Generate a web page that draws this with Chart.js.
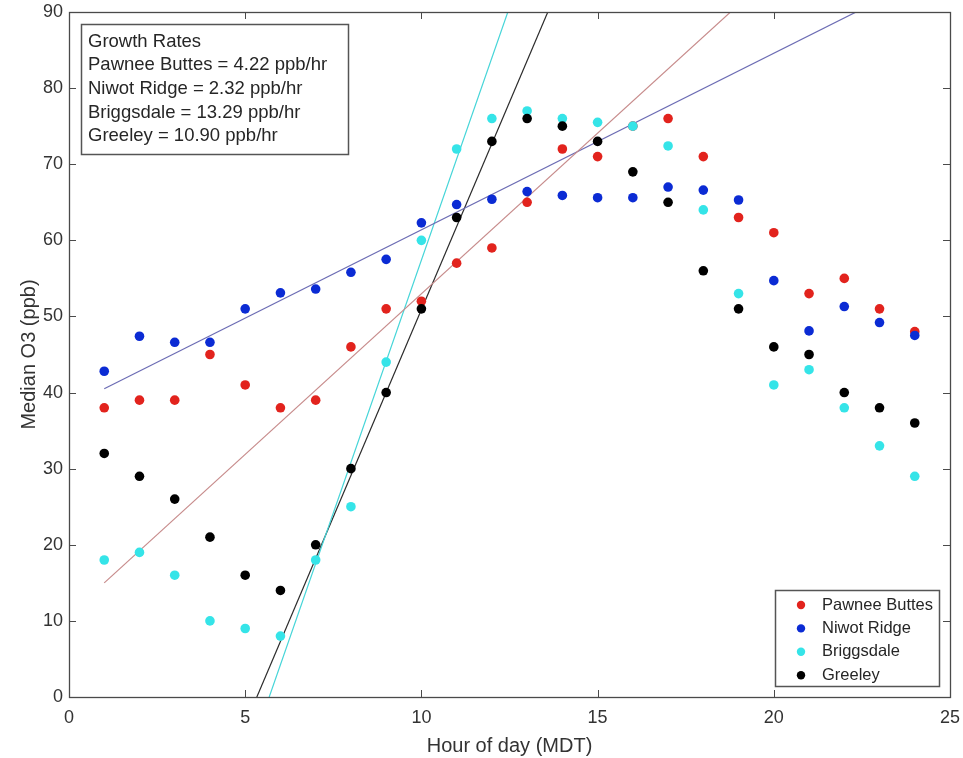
<!DOCTYPE html>
<html>
<head>
<meta charset="utf-8">
<script src="https://cdn.jsdelivr.net/npm/chart.js@4.4.1/dist/chart.umd.min.js"></script>
<style>
  body { margin: 0; background: #fff; }
  #wrap { width: 963px; height: 758px; }
</style>
</head>
<body>
<div id="wrap"><canvas id="ozone-chart" width="963" height="758"></canvas></div>
<script>
// hour of day (MDT)
const hours = [1, 2, 3, 4, 5, 6, 7, 8, 9, 10, 11, 12, 13, 14, 15, 16, 17, 18, 19, 20, 21, 22, 23, 24];

// median O3 (ppb) per site
const pawneeButtes = [38, 39, 39, 45, 41, 38, 39, 46, 51, 52, 57, 59, 65, 72, 71, 75, 76, 71, 63, 61, 53, 55, 51, 48];
const niwotRidge = [42.8, 47.4, 46.6, 46.6, 51, 53.1, 53.6, 55.8, 57.5, 62.3, 64.7, 65.4, 66.4, 65.9, 65.6, 65.6, 67, 66.6, 65.3, 54.7, 48.1, 51.3, 49.2, 47.5];
const briggsdale = [18, 19, 16, 10, 9, 8, 18, 25, 44, 60, 72, 76, 77, 76, 75.5, 75, 72.4, 64, 53, 41, 43, 38, 33, 29];
const greeley = [32, 29, 26, 21, 16, 14, 20, 30, 40, 51, 63, 73, 76, 75, 73, 69, 65, 56, 51, 46, 45, 40, 38, 36];

const siteNames = ['Pawnee Buttes', 'Niwot Ridge', 'Briggsdale', 'Greeley'];

// linear fits (ppb/hr) over the morning rise
const fitSlopes = [4.22, 2.32, 13.29, 10.90];
const fitIntercepts = [10.78, 38.18, -75.5, -58.1];
const fitRange = [1, 24];

const xTicks = [0, 5, 10, 15, 20, 25];
const yTicks = [0, 10, 20, 30, 40, 50, 60, 70, 80, 90];

const dotColors = ['#e2231d', '#0b2bd4', '#35e4e8', '#000000'];
const fitColors = ['#c78b8b', '#6c6cb4', '#45d5d8', '#2b2b2b'];
const FONT = "'Liberation Sans', Arial, sans-serif";
const INK = '#333333';

const series = [pawneeButtes, niwotRidge, briggsdale, greeley];
const datasets = [];

series.forEach((values, i) => {
    datasets.push({
        label: siteNames[i],
        data: hours.map((h, j) => ({ x: h, y: values[j] })),
        backgroundColor: dotColors[i],
        borderWidth: 0,
        pointRadius: 4.8,
        showLine: false,
        order: 4 - i,
    });
});

series.forEach((_, i) => {
    datasets.push({
        label: siteNames[i] + ' fit',
        data: fitRange.map(x => ({ x: x, y: fitSlopes[i] * x + fitIntercepts[i] })),
        showLine: true,
        borderColor: fitColors[i],
        borderWidth: 1.2,
        pointRadius: 0,
        order: 10 + i,
        isFit: true,
    });
});

// fixed axis box sizes, no extra label padding around the plot
function fitAxis(size) {
    return s => {
        if (s.isHorizontal()) s.height = size; else s.width = size;
        s.paddingTop = s.paddingBottom = s.paddingLeft = s.paddingRight = 0;
    };
}

// box around the axes with inward ticks on all four sides
const frameTicks = {
    id: 'frameTicks',
    afterDatasetsDraw(chart) {
        const { ctx, chartArea: a } = chart;
        const xs = chart.scales.x, ys = chart.scales.y;
        const len = 7;
        ctx.save();
        ctx.strokeStyle = '#4a4a4a';
        ctx.lineWidth = 1;
        ctx.beginPath();
        xTicks.forEach(v => {
            const px = Math.round(xs.getPixelForValue(v)) + 0.5;
            ctx.moveTo(px, a.bottom); ctx.lineTo(px, a.bottom - len);
            ctx.moveTo(px, a.top); ctx.lineTo(px, a.top + len);
        });
        yTicks.forEach(v => {
            const py = Math.round(ys.getPixelForValue(v)) + 0.5;
            ctx.moveTo(a.left, py); ctx.lineTo(a.left + len, py);
            ctx.moveTo(a.right, py); ctx.lineTo(a.right - len, py);
        });
        ctx.stroke();
        ctx.lineWidth = 1.3;
        ctx.strokeRect(Math.round(a.left) + 0.5, Math.round(a.top) + 0.5,
            Math.round(a.right - a.left), Math.round(a.bottom - a.top));
        ctx.restore();
    }
};

// "Growth Rates" annotation box
const ratesBox = {
    id: 'ratesBox',
    afterDraw(chart) {
        const ctx = chart.ctx;
        const lines = ['Growth Rates'].concat(siteNames.map((n, i) => `${n} = ${fitSlopes[i].toFixed(2)} ppb/hr`));
        ctx.save();
        ctx.fillStyle = '#fff';
        ctx.fillRect(82, 25, 266, 129);
        ctx.strokeStyle = '#555';
        ctx.lineWidth = 1.5;
        ctx.strokeRect(81.5, 24.5, 267, 130);
        ctx.font = `18.5px ${FONT}`;
        ctx.fillStyle = '#262626';
        ctx.textBaseline = 'middle';
        lines.forEach((t, k) => ctx.fillText(t, 88, 41.5 + k * 23.7));
        ctx.restore();
    }
};

// legend inside the lower right corner
const cornerLegend = {
    id: 'cornerLegend',
    afterDraw(chart) {
        const ctx = chart.ctx;
        const items = chart.data.datasets.filter(d => !d.isFit);
        ctx.save();
        ctx.fillStyle = '#fff';
        ctx.fillRect(776, 591, 163, 96);
        ctx.strokeStyle = '#555';
        ctx.lineWidth = 1.5;
        ctx.strokeRect(775.5, 590.5, 164, 96);
        ctx.font = `16.5px ${FONT}`;
        ctx.textBaseline = 'middle';
        items.forEach((d, k) => {
            const y = 605 + k * 23.4;
            ctx.fillStyle = d.backgroundColor;
            ctx.beginPath();
            ctx.arc(801, y, 4.2, 0, Math.PI * 2);
            ctx.fill();
            ctx.fillStyle = '#262626';
            ctx.fillText(d.label, 822, y);
        });
        ctx.restore();
    }
};

const ctx = document.getElementById('ozone-chart').getContext('2d');
const ozoneChart = new Chart(ctx, {
    type: 'scatter',
    data: { datasets: datasets },
    options: {
        responsive: false,
        animation: false,
        layout: { padding: { left: 13, top: 12, right: 13, bottom: 0 } },
        scales: {
            x: {
                type: 'linear',
                min: 0,
                max: 25,
                afterBuildTicks: s => { s.ticks = xTicks.map(v => ({ value: v })); },
                afterFit: fitAxis(61),
                grid: { display: false, drawTicks: false },
                border: { display: false },
                ticks: { color: INK, padding: 10, font: { family: FONT, size: 18 } },
                title: {
                    display: true,
                    text: 'Hour of day (MDT)',
                    color: INK,
                    padding: { top: 0, bottom: 0 },
                    font: { family: FONT, size: 20 },
                },
            },
            y: {
                type: 'linear',
                min: 0,
                max: 90,
                afterBuildTicks: s => { s.ticks = yTicks.map(v => ({ value: v })); },
                afterFit: fitAxis(56),
                grid: { display: false, drawTicks: false },
                border: { display: false },
                ticks: { color: INK, padding: 6, font: { family: FONT, size: 18 } },
                title: {
                    display: true,
                    text: 'Median O3 (ppb)',
                    color: INK,
                    padding: { top: 4, bottom: 0 },
                    font: { family: FONT, size: 20 },
                },
            },
        },
        plugins: {
            legend: { display: false },
            tooltip: { enabled: false },
        },
    },
    plugins: [frameTicks, ratesBox, cornerLegend],
});
</script>
</body>
</html>
